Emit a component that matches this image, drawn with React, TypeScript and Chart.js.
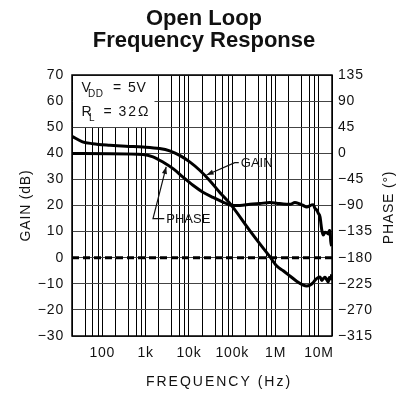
import { useEffect, useRef } from "react";
import { Chart, registerables } from "chart.js";

Chart.register(...registerables);

// ---- axis definitions -------------------------------------------------
const FREQ_MIN = 20;
const FREQ_MAX = 20e6;
// vertical grid at 1, 2, 4, 6, 8 of every decade
const freqGrid = [
  20, 40, 60, 80,
  100, 200, 400, 600, 800,
  1e3, 2e3, 4e3, 6e3, 8e3,
  1e4, 2e4, 4e4, 6e4, 8e4,
  1e5, 2e5, 4e5, 6e5, 8e5,
  1e6, 2e6, 4e6, 6e6, 8e6,
  1e7, 2e7,
];
const freqLabelValues = [100, 1e3, 1e4, 1e5, 1e6, 1e7];
const freqLabelTexts = ["100", "1k", "10k", "100k", "1M", "10M"];

const GAIN_MIN = -30;
const GAIN_MAX = 70;
const GAIN_STEP = 10;
const PHASE_MIN = -315;
const PHASE_MAX = 135;
const PHASE_STEP = 45;

// ---- measured response ------------------------------------------------
const gainFreq = [
  20, 35, 60, 150, 350, 870, 2100, 3600, 6100, 10400, 17700, 30000, 51000,
  88000, 254000, 433000, 737000, 1.05e6, 1.5e6, 2.14e6, 3.05e6, 4.34e6,
  5.2e6, 6.2e6, 7.4e6, 8.1e6, 9.6e6, 10.6e6, 11.6e6, 12.6e6, 13.8e6,
  15.1e6, 16.4e6, 17.3e6, 18.7e6, 19.7e6,
];
const gainDb = [
  46.5, 44.4, 43.7, 43.1, 42.7, 42.4, 41.8, 40.9, 39.2, 36.7, 33.5, 29.6, 25.1,
  20.8, 10.4, 5.3, 0.4, -3.1, -5.0, -7.0, -9.0, -10.5,
  -10.8, -10.5, -9.5, -8.6, -7.6, -7.4, -8.7, -8.0, -7.5,
  -8.4, -9.3, -7.6, -8.2, -6.4,
];

const phaseFreq = [
  20, 870, 1480, 2500, 4300, 7300, 12400, 21000, 36000, 61000, 88000,
  150000, 254000, 433000, 737000, 1.05e6, 1.5e6, 2.14e6, 2.79e6, 3.5e6,
  4.34e6, 5.2e6, 6.79e6, 7.4e6, 8.1e6, 8.9e6, 9.6e6, 10.6e6, 11.6e6,
  12.6e6, 13.8e6, 15.1e6, 16.4e6, 17.3e6, 18e6, 18.7e6, 19.7e6,
];
const phaseDeg = [
  -0.5, -2, -6, -15, -26.5, -41, -55, -67, -76, -84, -89,
  -90, -88, -86.5, -85, -86, -87.5, -88, -85, -87,
  -90, -92.5, -89, -88.5, -95, -98, -103, -110, -132,
  -141, -136, -137, -139, -133, -133, -152, -160,
];

// 0 dB / -180 deg reference
const refFreq = [FREQ_MIN, FREQ_MAX];
const refDb = [0, 0];

// ---- annotations (frequency, dB) --------------------------------------
const legendBox = { freq: 1600, db: 50 };
const gainCallout = { text: "GAIN", tip: [25500, 31.7], elbow: [114000, 36.4], label: [157000, 36.4] };
const phaseCallout = { text: "PHASE", tip: [2980, 34.8], elbow: [1480, 15.0], label: [3000, 15.0] };

const TITLE_LINES = ["Open Loop", "Frequency Response"];
const X_TITLE = "FREQUENCY (Hz)";
const Y_TITLE = "GAIN (dB)";
const Y2_TITLE = "PHASE (\u00B0)";

const FONT = '"Liberation Sans", Arial, sans-serif';
const INK = "#111";

const fmtSigned = (v: number) => (v < 0 ? "\u2212" + Math.abs(v) : String(v));

function arrow(ctx: CanvasRenderingContext2D, fromX: number, fromY: number, toX: number, toY: number) {
  const ang = Math.atan2(toY - fromY, toX - fromX);
  const len = 7;
  const half = 2.6;
  ctx.beginPath();
  ctx.moveTo(toX, toY);
  ctx.lineTo(toX - len * Math.cos(ang) + half * Math.sin(ang), toY - len * Math.sin(ang) - half * Math.cos(ang));
  ctx.lineTo(toX - len * Math.cos(ang) - half * Math.sin(ang), toY - len * Math.sin(ang) + half * Math.cos(ang));
  ctx.closePath();
  ctx.fill();
}

const decorPlugin = {
  id: "decor",
  beforeDraw(chart: any) {
    chart.ctx.letterSpacing = "0.8px";
  },
  beforeDatasetsDraw(chart: any) {
    const { ctx, chartArea, scales } = chart;
    const xr = scales.x.getPixelForValue(legendBox.freq);
    const yb = Math.floor(scales.y.getPixelForValue(legendBox.db));
    ctx.save();
    ctx.fillStyle = "#fff";
    ctx.fillRect(chartArea.left + 1, chartArea.top + 1, xr - chartArea.left - 1, yb - chartArea.top - 1);
    ctx.restore();
  },
  afterDatasetsDraw(chart: any) {
    const { ctx, chartArea } = chart;
    ctx.save();
    ctx.strokeStyle = "#000";
    ctx.lineWidth = 1.5;
    ctx.strokeRect(chartArea.left, chartArea.top, chartArea.right - chartArea.left, chartArea.bottom - chartArea.top);
    ctx.restore();
  },
  afterDraw(chart: any) {
    const { ctx, chartArea, scales } = chart;
    const px = (f: number) => scales.x.getPixelForValue(f);
    const py = (d: number) => scales.y.getPixelForValue(d);
    ctx.save();
    ctx.fillStyle = INK;
    ctx.strokeStyle = INK;

    // chart title
    ctx.letterSpacing = "0px";
    ctx.font = `bold 22px ${FONT}`;
    ctx.textAlign = "center";
    ctx.textBaseline = "alphabetic";
    const cx = 204;
    ctx.fillText(TITLE_LINES[0], cx, 25);
    ctx.fillText(TITLE_LINES[1], cx, 47);

    // axis titles
    ctx.font = `14px ${FONT}`;
    ctx.textBaseline = "middle";
    ctx.letterSpacing = "2px";
    ctx.fillText(X_TITLE, 219, 382);
    ctx.letterSpacing = "0.8px";
    const midY = (chartArea.top + chartArea.bottom) / 2;
    ctx.save();
    ctx.translate(26, midY);
    ctx.rotate(-Math.PI / 2);
    ctx.fillText(Y_TITLE, 0, 0);
    ctx.restore();
    ctx.save();
    ctx.translate(389, midY + 2);
    ctx.rotate(-Math.PI / 2);
    ctx.fillText(Y2_TITLE, 0, 0);
    ctx.restore();

    // conditions box text
    ctx.textAlign = "left";
    ctx.textBaseline = "alphabetic";
    const x0 = chartArea.left + 9.5;
    const r1 = chartArea.top + 17;
    const r2 = chartArea.top + 40.5;
    ctx.font = `14px ${FONT}`;
    ctx.letterSpacing = "0.8px";
    ctx.fillText("V", x0, r1);
    ctx.fillText("=", x0 + 31.5, r1);
    ctx.fillText("5V", x0 + 46.5, r1);
    ctx.fillText("R", x0, r2);
    ctx.fillText("=", x0 + 22, r2);
    ctx.letterSpacing = "2px";
    ctx.fillText("32\u03A9", x0 + 37, r2);
    ctx.font = `10px ${FONT}`;
    ctx.letterSpacing = "0.5px";
    ctx.fillText("DD", x0 + 6.5, r1 + 5);
    ctx.fillText("L", x0 + 7.5, r2 + 5.5);

    // callouts
    ctx.lineWidth = 1.2;
    ctx.font = `13px ${FONT}`;
    ctx.letterSpacing = "0px";
    ctx.textBaseline = "middle";
    for (const c of [gainCallout, phaseCallout]) {
      const tx = px(c.tip[0]);
      const ty = py(c.tip[1]);
      const ex = px(c.elbow[0]);
      const ey = py(c.elbow[1]);
      const lx = px(c.label[0]);
      const ly = py(c.label[1]);
      ctx.beginPath();
      ctx.moveTo(lx - 2, ly);
      ctx.lineTo(ex, ey);
      ctx.lineTo(tx, ty);
      ctx.stroke();
      arrow(ctx, ex, ey, tx, ty);
      ctx.fillText(c.text, lx, ly + 0.5);
    }
    ctx.restore();
  },
};

export default function App() {
  const canvasRef = useRef<HTMLCanvasElement>(null);

  useEffect(() => {
    const canvas = canvasRef.current;
    if (!canvas) return;
    const tickFont = { family: FONT, size: 14 };
    const chart = new Chart(canvas, {
      type: "line",
      data: {
        datasets: [
          {
            label: "Gain",
            data: gainFreq.map((f, i) => ({ x: f, y: gainDb[i] })),
            yAxisID: "y",
            borderColor: "#000",
            borderWidth: 3,
            pointRadius: 0,
            cubicInterpolationMode: "monotone",
          },
          {
            label: "Phase",
            data: phaseFreq.map((f, i) => ({ x: f, y: phaseDeg[i] })),
            yAxisID: "phase",
            borderColor: "#000",
            borderWidth: 3,
            pointRadius: 0,
            cubicInterpolationMode: "monotone",
          },
          {
            label: "0 dB",
            data: refFreq.map((f, i) => ({ x: f, y: refDb[i] })),
            yAxisID: "y",
            borderColor: "#000",
            borderWidth: 3,
            borderDash: [7, 4],
            pointRadius: 0,
          },
        ],
      },
      options: {
        animation: false,
        responsive: false,
        events: [],
        layout: { padding: { top: 75, left: 0, right: 0, bottom: 0 } },
        plugins: {
          legend: { display: false },
          tooltip: { enabled: false },
          title: { display: false },
        },
        scales: {
          x: {
            type: "logarithmic",
            position: "bottom",
            min: FREQ_MIN,
            max: FREQ_MAX,
            afterBuildTicks: (scale: any) => {
              scale.ticks = freqGrid.map((v) => ({ value: v }));
            },
            afterFit: (scale: any) => {
              scale.height = 63;
            },
            ticks: {
              autoSkip: false,
              maxRotation: 0,
              minRotation: 0,
              padding: 9,
              color: INK,
              font: tickFont,
              callback: (value: any) => {
                const i = freqLabelValues.indexOf(Number(value));
                return i >= 0 ? freqLabelTexts[i] : "";
              },
            },
            grid: { color: "#000", lineWidth: 1, drawTicks: false },
            border: { display: false },
          },
          y: {
            position: "left",
            min: GAIN_MIN,
            max: GAIN_MAX,
            afterFit: (scale: any) => {
              scale.width = 72;
            },
            ticks: {
              stepSize: GAIN_STEP,
              padding: 8,
              color: INK,
              font: tickFont,
              callback: (v: any) => fmtSigned(Number(v)),
            },
            grid: { color: "#444", lineWidth: 1, drawTicks: false },
            border: { display: false },
          },
          phase: {
            position: "right",
            min: PHASE_MIN,
            max: PHASE_MAX,
            afterFit: (scale: any) => {
              scale.width = 66;
            },
            ticks: {
              stepSize: PHASE_STEP,
              padding: 6,
              color: INK,
              font: tickFont,
              callback: (v: any) => fmtSigned(Number(v)),
            },
            grid: { display: false, drawTicks: false },
            border: { display: false },
          },
        },
      },
      plugins: [decorPlugin],
    } as any);
    return () => chart.destroy();
  }, []);

  return (
    <div style={{ position: "fixed", left: 0, top: 0, width: 398, height: 399, background: "#fff" }}>
      <canvas ref={canvasRef} width={398} height={399} style={{ display: "block", width: 398, height: 399 }} />
    </div>
  );
}
